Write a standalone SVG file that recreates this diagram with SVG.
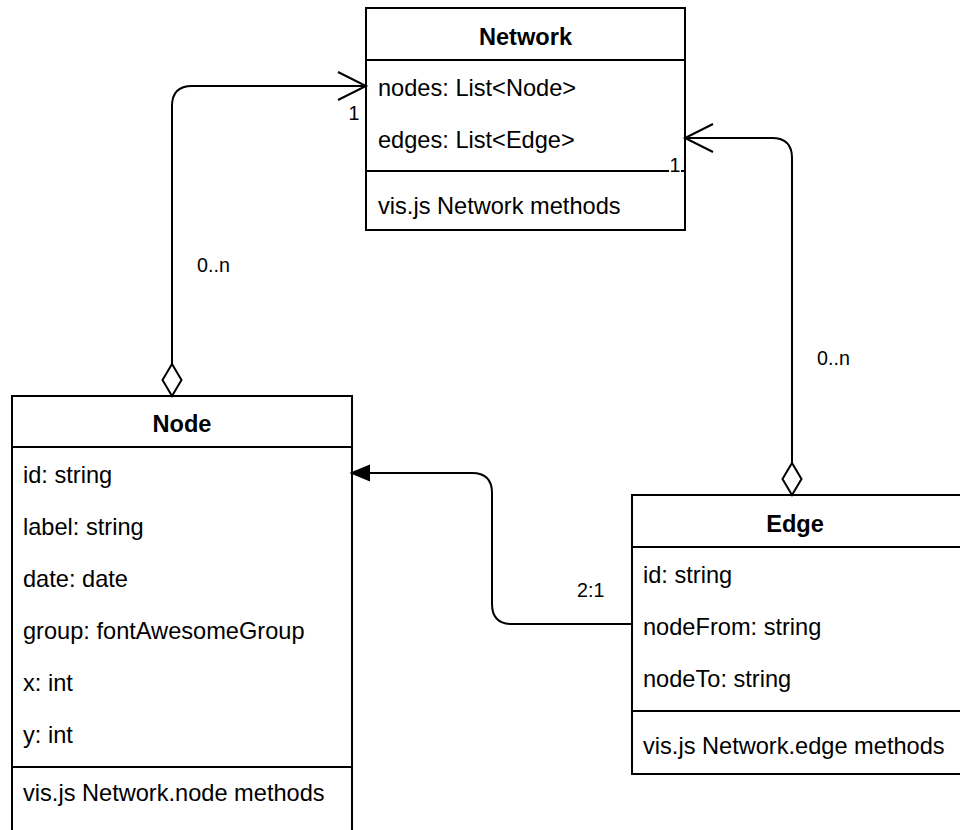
<svg xmlns="http://www.w3.org/2000/svg" width="960" height="830" viewBox="0 0 960 830">
  <style>
    .box { fill: #ffffff; stroke: #000000; stroke-width: 2; }
    .sep { stroke: #000000; stroke-width: 2; fill: none; }
    .title { font-family: "Liberation Sans", Arial, sans-serif; font-size: 23.6px; font-weight: bold; fill: #000000; text-anchor: middle; }
    .attr { font-family: "Liberation Sans", Arial, sans-serif; font-size: 23.6px; fill: #000000; }
    .lbl { font-family: "Liberation Sans", Arial, sans-serif; font-size: 19.7px; fill: #000000; }
    .wire { fill: none; stroke: #000000; stroke-width: 2; }
    .diamond { fill: #ffffff; stroke: #000000; stroke-width: 2; }
  </style>

  <!-- Network class -->
  <g id="network">
    <rect class="box" x="366" y="8" width="319" height="222"/>
    <line class="sep" x1="366" y1="60" x2="685" y2="60"/>
    <line class="sep" x1="366" y1="171" x2="685" y2="171"/>
    <text class="title" x="525.5" y="45">Network</text>
    <text class="attr" x="378" y="96">nodes: List&lt;Node&gt;</text>
    <text class="attr" x="378" y="148">edges: List&lt;Edge&gt;</text>
    <text class="attr" x="378" y="214">vis.js Network methods</text>
  </g>

  <!-- Node class -->
  <g id="node">
    <rect class="box" x="12" y="396" width="340" height="450"/>
    <line class="sep" x1="12" y1="447" x2="352" y2="447"/>
    <line class="sep" x1="12" y1="767" x2="352" y2="767"/>
    <text class="title" x="182" y="432">Node</text>
    <text class="attr" x="23" y="483">id: string</text>
    <text class="attr" x="23" y="535">label: string</text>
    <text class="attr" x="23" y="587">date: date</text>
    <text class="attr" x="23" y="639">group: fontAwesomeGroup</text>
    <text class="attr" x="23" y="691">x: int</text>
    <text class="attr" x="23" y="743">y: int</text>
    <text class="attr" x="23" y="801">vis.js Network.node methods</text>
  </g>

  <!-- Edge class -->
  <g id="edge">
    <rect class="box" x="632" y="495" width="340" height="279"/>
    <line class="sep" x1="632" y1="547" x2="972" y2="547"/>
    <line class="sep" x1="632" y1="711" x2="972" y2="711"/>
    <text class="title" x="795" y="532">Edge</text>
    <text class="attr" x="643" y="583">id: string</text>
    <text class="attr" x="643" y="635">nodeFrom: string</text>
    <text class="attr" x="643" y="687">nodeTo: string</text>
    <text class="attr" x="643" y="754">vis.js Network.edge methods</text>
  </g>

  <!-- Connectors -->
  <g id="connectors">
    <!-- Node aggregated into Network.nodes -->
    <path class="wire" d="M172,364 V106 Q172,86 192,86 H366"/>
    <path class="wire" d="M338,72 L366,86 L338,100"/>
    <path class="diamond" d="M172,364 L181.5,380 L172,396 L162.5,380 Z"/>
    <text class="lbl" x="354" y="120" text-anchor="middle">1</text>
    <text class="lbl" x="197" y="272">0..n</text>

    <!-- Edge aggregated into Network.edges -->
    <path class="wire" d="M792,463 V158 Q792,138 772,138 H685"/>
    <path class="wire" d="M713,124 L685,138 L713,152"/>
    <path class="diamond" d="M792,463 L801.5,479 L792,495 L782.5,479 Z"/>
    <rect x="669" y="157" width="12" height="19" fill="#ffffff"/>
    <text class="lbl" x="675" y="172" text-anchor="middle">1</text>
    <text class="lbl" x="817" y="365">0..n</text>

    <!-- Edge.nodeFrom references Node -->
    <path class="wire" d="M632,624 H512 Q492,624 492,604 V493 Q492,473 472,473 H366"/>
    <path d="M352,473 L369,466 L369,480 Z" fill="#000000" stroke="#000000" stroke-width="2" stroke-linejoin="miter"/>
    <text class="lbl" x="577" y="597">2:1</text>
  </g>
</svg>
